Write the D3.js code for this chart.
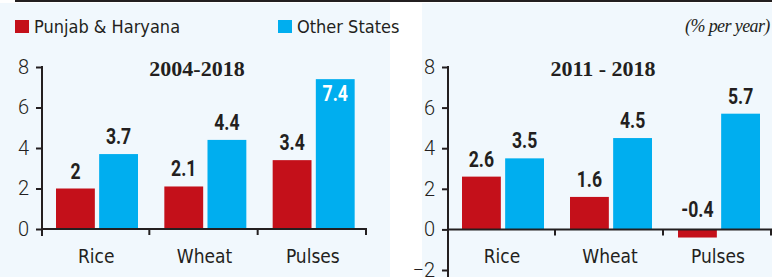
<!DOCTYPE html>
<html>
<head>
<meta charset="utf-8">
<script src="https://cdn.jsdelivr.net/npm/d3@7"></script>
<style>
  body { margin: 0; background: #fff; }
  svg { display: block; }
  .cond { font-family: "DejaVu Sans Condensed", "Roboto", sans-serif; }
</style>
</head>
<body>
<svg id="chart" width="772" height="277"></svg>
<script>
// categories + series
const crops = ["Rice", "Wheat", "Pulses"];
const seriesNames = ["Punjab & Haryana", "Other States"];
const seriesColours = ["#c4101a", "#00aeef"];

// growth rates, % per year
const punjab2004 = [2, 2.1, 3.4];
const others2004 = [3.7, 4.4, 7.4];
const punjab2011 = [2.6, 1.6, -0.4];
const others2011 = [3.5, 4.5, 5.7];

const ticksLeft = [0, 2, 4, 6, 8];
const ticksRight = [-2, 0, 2, 4, 6, 8];

const svg = d3.select("#chart");

// panel backgrounds
svg.append("rect").attr("x", 0).attr("y", 3).attr("width", 390).attr("height", 274).attr("fill", "#f1f8fd");
svg.append("rect").attr("x", 422).attr("y", 3).attr("width", 350).attr("height", 274).attr("fill", "#f1f8fd");

// top rule
svg.append("line")
    .attr("x1", 15).attr("x2", 772).attr("y1", 1).attr("y2", 1)
    .attr("stroke", "#231f20").attr("stroke-width", 2);

// legend
const legend = svg.append("g");
const legendX = [15, 278];
seriesNames.forEach(function (name, i) {
    legend.append("rect")
        .attr("x", legendX[i]).attr("y", 20)
        .attr("width", 14).attr("height", 13)
        .attr("fill", seriesColours[i]);
    legend.append("text")
        .attr("class", "cond")
        .attr("x", legendX[i] + 19).attr("y", 33)
        .attr("font-size", 18)
        .attr("fill", "#231f20")
        .text(name);
});

svg.append("text")
    .attr("x", 685).attr("y", 32)
    .attr("font-family", "Liberation Serif, serif")
    .attr("font-style", "italic")
    .attr("font-size", 18)
    .attr("letter-spacing", -0.6)
    .attr("fill", "#231f20")
    .text("(% per year)");

function drawPanel(left, right, domain, ticks, title, punjab, others) {
    const g = svg.append("g");

    const y = d3.scaleLinear().domain(domain).range([domain[0] < 0 ? 270 : 229, 67]);
    const x = d3.scaleBand().domain(crops).range([left, right]);
    const xs = d3.scaleBand().domain(seriesNames).range([14, 96]).paddingInner(0.1);

    // bars
    const rows = crops.map((c, i) => ({crop: c, values: [punjab[i], others[i]]}));

    const groups = g.selectAll("g.crop")
        .data(rows)
        .join("g")
        .attr("class", "crop")
        .attr("transform", d => "translate(" + x(d.crop) + ",0)");

    groups.selectAll("rect")
        .data(d => d.values.map((v, i) => ({name: seriesNames[i], v: v, i: i})))
        .join("rect")
        .attr("x", d => xs(d.name))
        .attr("width", xs.bandwidth())
        .attr("y", d => y(Math.max(0, d.v)))
        .attr("height", d => Math.abs(y(d.v) - y(0)))
        .attr("fill", d => seriesColours[d.i]);

    // value labels, squeezed to look condensed
    groups.selectAll("text.val")
        .data(d => d.values.map((v, i) => ({name: seriesNames[i], v: v, i: i})))
        .join("text")
        .attr("class", "val")
        .attr("transform", function (d) {
            let ty;
            if (d.v > 7) ty = y(d.v) + 22;
            else if (d.v < 0) ty = y(0) - 12;
            else ty = y(d.v) - 10;
            return "translate(" + (xs(d.name) + xs.bandwidth() / 2) + "," + ty + ") scale(0.8,1)";
        })
        .attr("text-anchor", "middle")
        .attr("font-family", "Roboto, sans-serif")
        .attr("font-size", 22)
        .attr("font-weight", "bold")
        .attr("fill", d => d.v > 7 ? "#fff" : "#231f20")
        .text(d => d.v);

    // y axis
    const yAxis = g.append("g")
        .attr("transform", "translate(" + left + ",0)")
        .call(d3.axisLeft(y).tickValues(ticks).tickSize(6).tickPadding(7));
    yAxis.select(".domain").remove();
    yAxis.selectAll(".tick line").attr("stroke", "#231f20").attr("stroke-width", 2);
    yAxis.selectAll(".tick text")
        .attr("font-family", "Roboto, sans-serif")
        .attr("font-weight", 300)
        .attr("font-size", 20)
        .attr("fill", "#231f20");
    g.append("line")
        .attr("x1", left).attr("x2", left)
        .attr("y1", y(domain[1]) - 1).attr("y2", y(domain[0]) + 7)
        .attr("stroke", "#231f20").attr("stroke-width", 2);

    // x axis at zero
    g.append("line")
        .attr("x1", left).attr("x2", right)
        .attr("y1", y(0)).attr("y2", y(0))
        .attr("stroke", "#231f20").attr("stroke-width", 2);
    const bounds = crops.map(c => x(c)).concat([right]);
    g.selectAll("line.sep")
        .data(bounds.slice(1))
        .join("line")
        .attr("class", "sep")
        .attr("x1", d => d - 1).attr("x2", d => d - 1)
        .attr("y1", y(0)).attr("y2", y(0) + 6)
        .attr("stroke", "#231f20").attr("stroke-width", 2);

    g.selectAll("text.cat")
        .data(crops)
        .join("text")
        .attr("class", "cat cond")
        .attr("x", d => x(d) + x.bandwidth() / 2)
        .attr("y", 263)
        .attr("text-anchor", "middle")
        .attr("font-size", 19)
        .attr("fill", "#231f20")
        .text(d => d);

    g.append("text")
        .attr("x", left + 155)
        .attr("y", 76)
        .attr("text-anchor", "middle")
        .attr("font-family", "Liberation Serif, serif")
        .attr("font-weight", "bold")
        .attr("font-size", 22)
        .attr("fill", "#231f20")
        .text(title);
}

drawPanel(42, 367, [0, 8], ticksLeft, "2004-2018", punjab2004, others2004);
drawPanel(448, 772, [-2, 8], ticksRight, "2011 - 2018", punjab2011, others2011);
</script>
</body>
</html>
